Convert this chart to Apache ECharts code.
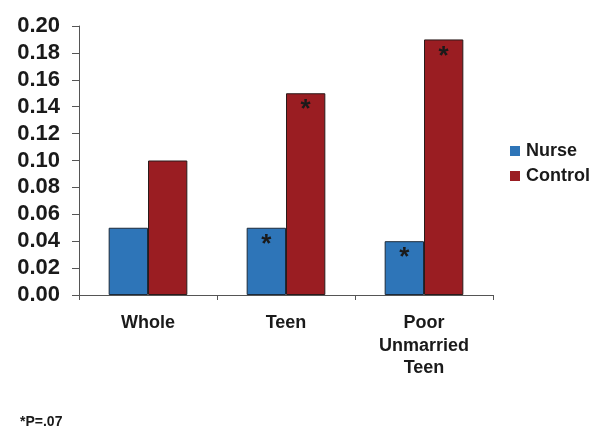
<!DOCTYPE html>
<html><head><meta charset="utf-8">
<script src="https://cdn.jsdelivr.net/npm/echarts@6/dist/echarts.min.js"></script>
<style>html,body{margin:0;padding:0;background:#fff}#c{width:601px;height:437px}</style>
</head><body><div id="c"></div>
<script>
const categories = ['Whole', 'Teen', 'Poor\nUnmarried\nTeen'];
const nurse = [0.05, 0.05, 0.04];
const control = [0.10, 0.15, 0.19];
const nurseStar = [false, true, true];
const controlStar = [false, true, true];
const yTicks = [0, 0.02, 0.04, 0.06, 0.08, 0.10, 0.12, 0.14, 0.16, 0.18, 0.20];
const footnote = '*P=.07';

const F = 'Liberation Sans, Arial, sans-serif';
const chart = echarts.init(document.getElementById('c'));
function starLabel(flags){
  return {show:true, position:'insideTop', distance:4,
    formatter: p => flags[p.dataIndex] ? '*' : '',
    color:'#1a1a1a', fontFamily:F, fontWeight:'bold', fontSize:26};
}
chart.setOption({
  animation:false,
  backgroundColor:'#fff',
  grid:{left:79, right:108, top:26, bottom:142, containLabel:false},
  legend:{orient:'vertical', left:510, top:142, padding:0, itemWidth:10, itemHeight:10, itemGap:7,
    itemStyle:{borderWidth:0},
    textStyle:{fontFamily:F, fontWeight:'bold', fontSize:18, color:'#1a1a1a', padding:[0,0,0,1]},
    icon:'rect', data:['Nurse','Control']},
  graphic:[{type:'text', left:20, top:415, style:{text:footnote, font:'bold 14px '+F, fill:'#1a1a1a'}}],
  xAxis:{type:'category', data:categories,
    axisLine:{lineStyle:{color:'#555', width:1}},
    axisTick:{show:true, alignWithLabel:false, length:5, lineStyle:{color:'#555'}},
    axisLabel:{fontFamily:F, fontWeight:'bold', fontSize:18, color:'#1a1a1a', margin:17, lineHeight:22.5}},
  yAxis:{type:'value', min:0, max:0.20, interval:0.02,
    axisLine:{show:true, lineStyle:{color:'#555'}},
    axisTick:{show:true, inside:false, length:7, lineStyle:{color:'#555'}},
    splitLine:{show:false},
    axisLabel:{fontFamily:F, fontWeight:'bold', fontSize:22, color:'#1a1a1a', margin:19,
      formatter: v => v.toFixed(2)}},
  series:[
    {name:'Nurse', type:'bar', data:nurse, barGap:'0%', barCategoryGap:'43%',
     itemStyle:{color:'#2e75b8', borderColor:'#1c2a3a', borderWidth:1}, label:starLabel(nurseStar)},
    {name:'Control', type:'bar', data:control,
     itemStyle:{color:'#9a1d22', borderColor:'#2a1a1a', borderWidth:1}, label:starLabel(controlStar)}
  ]
});
</script></body></html>
